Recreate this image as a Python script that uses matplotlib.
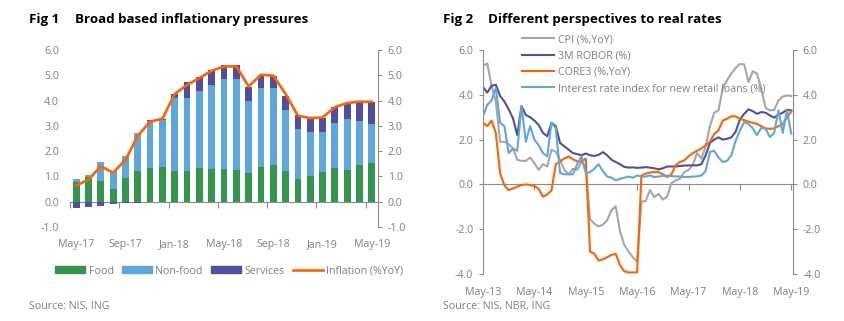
import numpy as np
import pandas as pd
import matplotlib
matplotlib.use('Agg')
import matplotlib.pyplot as plt
from matplotlib.patches import Patch
from matplotlib.lines import Line2D

plt.rcParams['font.family'] = ['Open Sans', 'DejaVu Sans']

GREEN = '#34954f'
LBLUE = '#5ea7dc'
PURPLE = '#4f4f9b'
ORANGE = '#ff6200'
GREY = '#a6a6a6'
TXT = '#7f7f7f'
AX = '#8c8c8c'

# ---- Fig 1 data: contributions to CPI (pp) ----
months1 = pd.date_range('2017-05', periods=25, freq='MS')
food = [0.78, 0.96, 0.80, 0.51, 0.92, 1.20, 1.32, 1.37, 1.20, 1.20, 1.32, 1.28, 1.28,
        1.26, 1.12, 1.36, 1.46, 1.20, 0.91, 1.00, 1.16, 1.32, 1.27, 1.46, 1.53]
nonfood = [0.12, 0.11, 0.77, 0.69, 0.87, 1.51, 1.89, 1.88, 2.90, 2.92, 3.04, 3.34, 3.58,
           3.60, 2.87, 3.14, 3.02, 2.44, 1.98, 1.77, 1.61, 1.80, 2.02, 1.74, 1.55]
services = [-0.26, -0.22, -0.17, -0.10, -0.05, -0.07, 0.02, 0.04, 0.17, 0.61, 0.59, 0.60, 0.53,
            0.53, 0.56, 0.52, 0.50, 0.55, 0.52, 0.50, 0.54, 0.62, 0.63, 0.76, 0.86]
inflation = [0.64, 0.87, 1.40, 1.15, 1.65, 2.60, 3.17, 3.28, 4.26, 4.62, 4.89, 5.18, 5.35,
             5.35, 4.56, 5.02, 4.99, 4.26, 3.40, 3.31, 3.33, 3.74, 3.90, 3.96, 3.95]

# ---- Fig 2 data: monthly, May-13 .. May-19 ----
months2 = pd.date_range('2013-05', periods=73, freq='MS')
cpi = [5.30, 5.40, 4.40, 3.70, 1.90, 1.90, 1.80, 1.60, 1.10, 1.05, 1.05, 1.20, 0.95,
       0.65, 0.90, 0.80, 1.55, 1.45, 1.10, 0.65, 0.45, 0.70, 0.65, 1.00, 0.75,
       -1.55, -1.75, -1.88, -1.80, -1.60, -1.15, -0.98, -2.10, -2.70, -3.00, -3.25, -3.45,
       -0.77, -0.74, -0.25, -0.57, -0.42, -0.68, -0.55, 0.05, 0.18, 0.25, 0.55,
       0.64, 0.87, 1.40, 1.15, 1.70, 2.60, 3.20, 3.30, 4.30, 4.65, 4.95, 5.20,
       5.38, 5.36, 4.57, 5.05, 4.95, 4.25, 3.42, 3.30, 3.32, 3.75, 3.92, 3.97, 3.95]
robor = [4.35, 4.10, 4.40, 4.45, 3.95, 3.70, 3.35, 2.95, 2.20, 3.50, 3.10, 3.00, 2.85,
         2.65, 2.30, 2.15, 2.75, 2.60, 1.85, 1.70, 1.55, 1.40, 1.35, 1.30, 1.38,
         1.30, 1.27, 1.32, 1.44, 1.30, 1.10, 1.00, 0.90, 0.78, 0.75, 0.76, 0.74,
         0.75, 0.77, 0.75, 0.72, 0.67, 0.72, 0.80, 0.80, 0.80, 0.82, 0.84,
         0.85, 0.85, 0.85, 0.90, 1.30, 1.85, 2.00, 2.10, 2.00, 2.04, 2.10, 2.35,
         2.90, 3.15, 3.35, 3.27, 3.15, 3.23, 3.20, 3.08, 2.98, 3.12, 3.20, 3.33, 3.30]
core3 = [2.75, 2.60, 2.85, 2.30, 0.50, -0.05, -0.25, -0.18, -0.10, -0.03, 0.00, -0.03, -0.07,
         -0.20, -0.55, -0.45, -0.27, 0.90, 1.03, 1.15, 1.25, 1.12, 1.03, 1.03, 1.15,
         -3.00, -3.10, -3.40, -3.35, -3.25, -3.15, -3.10, -3.60, -3.88, -3.93, -3.93, -3.93,
         0.40, 0.48, 0.53, 0.55, 0.55, 0.45, 0.33, 0.45, 0.85, 1.00, 1.07,
         1.25, 1.40, 1.50, 1.60, 1.75, 1.90, 2.25, 2.41, 2.85, 2.93, 3.04, 3.04,
         2.92, 2.87, 2.80, 2.75, 2.70, 2.60, 2.50, 2.48, 2.50, 2.60, 2.68, 3.00, 3.25]
loans = [3.05, 3.55, 3.75, 4.30, 2.75, 2.60, 1.40, 1.60, 1.50, 3.50, 1.90, 2.60, 2.00,
         1.75, 1.40, 1.25, 2.75, 2.50, 0.50, 0.45, 0.45, 0.45, 0.90, 1.25, 0.50,
         0.55, 0.70, 0.90, 0.60, 0.35, 0.30, 0.18, 0.25, 0.30, 0.35, 0.30, 0.40,
         0.35, 0.35, 0.40, 0.33, 0.35, 0.38, 0.40, 0.37, 0.36, 0.35, 0.33,
         0.33, 0.35, 0.36, 0.40, 0.60, 1.45, 1.50, 1.20, 1.00, 1.05, 1.30, 1.95,
         2.40, 2.78, 2.70, 2.50, 2.20, 2.53, 2.48, 2.11, 2.30, 3.30, 2.30, 3.30, 2.26]

fig = plt.figure(figsize=(8.45, 3.21), dpi=100)
W, H = 845, 321


def fx(px):
    return px / W


def fy(py):
    return 1 - py / H


# ================= Fig 1 =================
ax1 = fig.add_axes([fx(70), fy(227), fx(378) - fx(70), fy(50) - fy(227)])
x1 = np.arange(len(months1))
food_a = np.array(food)
nf_a = np.array(nonfood)
sv_a = np.array(services)
sv_bottom = np.where(sv_a >= 0, food_a + nf_a, 0)
bw = 0.55
ax1.bar(x1, food_a, width=bw, color=GREEN, zorder=2)
ax1.bar(x1, nf_a, bottom=food_a, width=bw, color=LBLUE, zorder=2)
ax1.bar(x1, sv_a, bottom=sv_bottom, width=bw, color=PURPLE, zorder=2)
ax1.set_xlim(-0.5, 24.5)
ax1.set_ylim(-1, 6)
ax1.set_yticks(np.arange(-1, 7, 1))
ax1.set_yticklabels([f'{v:.1f}' for v in np.arange(-1, 7, 1)])
ax1.set_xticks(x1[::4])
ax1.set_xticklabels([d.strftime('%b-%y') for d in months1[::4]])
ax1.tick_params(axis='both', length=0, colors=TXT, labelsize=7.7)
ax1.tick_params(axis='y', pad=8)
ax1.tick_params(axis='x', pad=9)
for s in ax1.spines.values():
    s.set_visible(False)

ax2 = ax1.twinx()
ax2.plot(x1, inflation, color=ORANGE, lw=1.9, zorder=3)
ax2.set_ylim(-1, 6)
ax2.set_yticks(np.arange(-1, 7, 1))
ax2.set_yticklabels([f'{v:.1f}' for v in np.arange(-1, 7, 1)])
ax2.tick_params(axis='y', length=3, color=AX, colors=TXT, labelsize=7.7, pad=4)
for k, s in ax2.spines.items():
    s.set_visible(k == 'right')
ax2.spines['right'].set_color(AX)
ax2.spines['right'].set_linewidth(0.8)

zero1 = ax1.secondary_xaxis(1 / 7)
zero1.set_xticks(np.arange(-0.5, 25, 4))
zero1.tick_params(axis='x', direction='out', length=4, color=AX, labelbottom=False, width=0.8)
for s in zero1.spines.values():
    s.set_color(AX)
    s.set_linewidth(0.8)

handles1 = [Patch(color=GREEN), Patch(color=LBLUE), Patch(color=PURPLE),
            Line2D([], [], color=ORANGE, lw=1.9)]
fig.legend(handles1, ['Food', 'Non-food', 'Services', 'Inflation (%YoY)'],
           loc='center left', bbox_to_anchor=(fx(55), fy(271)), ncol=4, frameon=False,
           fontsize=7.7, labelcolor=TXT, handlelength=2.8, handleheight=0.55,
           handletextpad=0.35, columnspacing=0.75, borderaxespad=0, borderpad=0)

fig.text(fx(29), fy(19), 'Fig 1', fontsize=9.6, fontweight='bold', va='center')
fig.text(fx(75), fy(19), 'Broad based inflationary pressures', fontsize=9.6,
         fontweight='bold', va='center')
fig.text(fx(29), fy(306), 'Source: NIS, ING', fontsize=7.7, color=TXT, va='center')

# ================= Fig 2 =================
ax3 = fig.add_axes([fx(483), fy(274), fx(793) - fx(483), fy(50) - fy(274)])
x2 = np.arange(len(months2))
ax3.plot(x2, cpi, color=GREY, lw=1.5, label='CPI (%,YoY)')
ax3.plot(x2, robor, color=PURPLE, lw=1.5, label='3M ROBOR (%)')
ax3.plot(x2, core3, color=ORANGE, lw=1.5, label='CORE3 (%,YoY)')
ax3.plot(x2, loans, color=LBLUE, lw=1.5, label='Interest rate index for new retail loans (%)')
ax3.set_xlim(0, 72.4)
ax3.set_ylim(-4, 6)
yt = np.arange(-4, 7, 2)
ax3.set_yticks(yt)
ax3.set_yticklabels([f'{v:.1f}' for v in yt])
ax3.set_xticks(x2[::12])
ax3.set_xticklabels([d.strftime('%b-%y') for d in months2[::12]])
ax3.tick_params(axis='x', length=0, colors=TXT, labelsize=7.7, pad=9)
ax3.tick_params(axis='y', length=3, color=AX, colors=TXT, labelsize=7.7, pad=4)
for k, s in ax3.spines.items():
    s.set_visible(k == 'left')
ax3.spines['left'].set_color(AX)
ax3.spines['left'].set_linewidth(0.8)

ax4 = ax3.twinx()
ax4.set_ylim(-4, 6)
ax4.set_yticks(yt)
ax4.set_yticklabels([f'{v:.1f}' for v in yt])
ax4.tick_params(axis='y', length=3, color=AX, colors=TXT, labelsize=7.7, pad=4)
for k, s in ax4.spines.items():
    s.set_visible(k == 'right')
ax4.spines['right'].set_color(AX)
ax4.spines['right'].set_linewidth(0.8)

zero2 = ax3.secondary_xaxis(0.4)
zero2.set_xticks(x2[12::12])
zero2.tick_params(axis='x', direction='out', length=4, color=AX, labelbottom=False, width=0.8)
for s in zero2.spines.values():
    s.set_color(AX)
    s.set_linewidth(0.8)

ax3.legend(loc='upper left', bbox_to_anchor=(fx(522), fy(34)), bbox_transform=fig.transFigure,
           frameon=False, fontsize=7.7, labelcolor=TXT, handlelength=3.0,
           handletextpad=0.35, labelspacing=0.5, borderaxespad=0, borderpad=0)

fig.text(fx(443), fy(19), 'Fig 2', fontsize=9.6, fontweight='bold', va='center')
fig.text(fx(488), fy(19), 'Different perspectives to real rates', fontsize=9.6,
         fontweight='bold', va='center')
fig.text(fx(443), fy(306), 'Source: NIS, NBR, ING', fontsize=7.7, color=TXT, va='center')

fig.savefig('out.png', dpi=100)
